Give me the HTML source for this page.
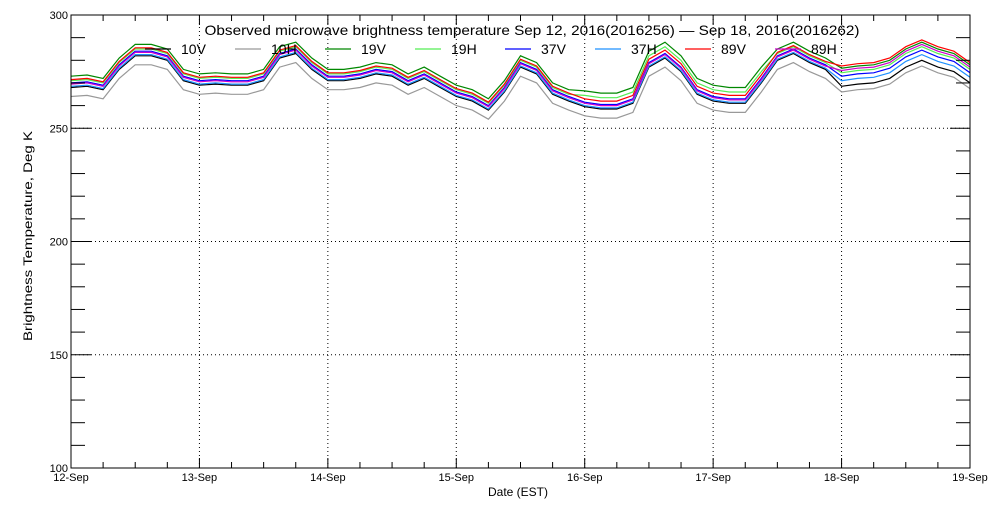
<!DOCTYPE html>
<html><head><meta charset="utf-8">
<style>
html,body{margin:0;padding:0;background:#fff;}
svg text{font-family:"Liberation Sans",sans-serif;fill:#000;}
</style></head>
<body>
<svg id="chart" width="1000" height="500" viewBox="0 0 1000 500" xmlns="http://www.w3.org/2000/svg">
<rect width="1000" height="500" fill="#fff"/>
<g id="grid"></g>
<g id="series"></g>
<g id="axes"></g>
<text x="532" y="35" font-size="14" text-anchor="middle" textLength="655" lengthAdjust="spacingAndGlyphs">Observed microwave brightness temperature Sep 12, 2016(2016256) — Sep 18, 2016(2016262)</text>
<text x="518" y="496" font-size="12" text-anchor="middle">Date (EST)</text>
<text x="32" y="236" font-size="12" text-anchor="middle" textLength="210" lengthAdjust="spacingAndGlyphs" transform="rotate(-90 32 236)">Brightness Temperature, Deg K</text>
<g id="legend"></g>
</svg>
<script>
const dayLabels=["12-Sep","13-Sep","14-Sep","15-Sep","16-Sep","17-Sep","18-Sep","19-Sep"];
const yTicks=[100,150,200,250,300];
const seriesNames=["10V","10H","19V","19H","37V","37H","89V","89H"];
const seriesColors=["#000000","#999999","#008800","#55ee55","#0000ff","#1e90ff","#ff0000","#cc00cc"];
const v10V=[268,268.5,267,276,282,282,280,271,269,269.5,269,269,271,281,283,276,271,271,272,274,273,269,272,268,264,262,258,266,277,274,265,262,259.5,258.5,258.5,261,277,281,275,265,262,261,261,270,280,283,279,276,268.5,269.5,270,272,277,280,277,275,270];
const v10H=[264,264.5,263,272,278,278,276,267,265,265.5,265,265,267,277,279,272,267,267,268,270,269,265,268,264,260,258,254,262,273,270,261,258,255.5,254.5,254.5,257,273,277,271,261,258,257,257,266,276,279,275,272,266,267,267.5,269.5,274.5,277.5,274.5,272.5,267.5];
const v19V=[273,273.5,272,281,287,287,285,276,274,274.5,274,274,276,286,288,281,276,276,277,279,278,274,277,273,269,267,263,271,282,279,270,267,266.5,265.5,265.5,268,284,288,282,272,269,268,268,277,285,288,284,281,276.5,277.5,278,280,285,288,285,283,278];
const v19H=[271,271.5,270,279,285,285,283,274,272,272.5,272,272,274,284,286,279,274,274,275,277,276,272,275,271,267,265,261,269,280,277,268,265,264.5,263.5,263.5,266,282,286,280,270,267,266,266,275,283,286,282,279,274.5,275.5,276,278,283,286,283,281,276];
const v37V=[270,270.5,269,278,284,284,282,273,271,271.5,271,271,273,283,285,278,273,273,274,276,275,271,274,270,266,264,260,268,279,276,267,264,261.5,260.5,260.5,263,279,283,277,267,264,263,263,272,282,285,281,278,273,274,274.5,276.5,281.5,284.5,281.5,279.5,274.5];
const v37H=[268.5,269,267.5,276.5,282.5,282.5,280.5,271.5,269.5,270,269.5,269.5,271.5,281.5,283.5,276.5,271.5,271.5,272.5,274.5,273.5,269.5,272.5,268.5,264.5,262.5,258.5,266.5,277.5,274.5,265.5,262.5,260,259,259,261.5,277.5,281.5,275.5,265.5,262.5,261.5,261.5,270.5,280.5,283.5,279.5,276.5,271,272,272.5,274.5,279.5,282.5,279.5,277.5,272.5];
const v89V=[271.5,272,270.5,279.5,285.5,285.5,283.5,274.5,272.5,273,272.5,272.5,274.5,284.5,286.5,279.5,274.5,274.5,275.5,277.5,276.5,272.5,275.5,271.5,267.5,265.5,261.5,269.5,280.5,277.5,268.5,265.5,263,262,262,264.5,280.5,284.5,278.5,268.5,265.5,264.5,264.5,273.5,283.5,286.5,282.5,279.5,277.5,278.5,279,281,286,289,286,284,279];
const v89H=[269.5,270,268.5,277.5,283.5,283.5,281.5,272.5,270.5,271,270.5,270.5,272.5,282.5,284.5,277.5,272.5,272.5,273.5,275.5,274.5,270.5,273.5,269.5,265.5,263.5,259.5,267.5,278.5,275.5,266.5,263.5,261,260,260,262.5,278.5,282.5,276.5,266.5,263.5,262.5,262.5,271.5,281.5,284.5,280.5,277.5,275.5,276.5,277,279,284,287,284,282,277];

const NS="http://www.w3.org/2000/svg";
const X0=71,X1=970,Y0=468,Y1=15,YMIN=100,YMAX=300,NDAYS=7;
const xs=d=>X0+(X1-X0)*d/NDAYS;
const ys=v=>Y0-(Y0-Y1)*(v-YMIN)/(YMAX-YMIN);
function mk(tag,attrs,parent){const e=document.createElementNS(NS,tag);for(const k in attrs)e.setAttribute(k,attrs[k]);parent.appendChild(e);return e;}
const grid=document.getElementById('grid'),axes=document.getElementById('axes'),ser=document.getElementById('series'),leg=document.getElementById('legend');

for(let d=1;d<NDAYS;d++){const l=mk('line',{x1:xs(d),x2:xs(d),y1:Y1,y2:Y0,stroke:'#000','stroke-width':1,'stroke-dasharray':'1,3'},grid);

}
for(const t of yTicks){if(t===YMIN||t===YMAX)continue;const l=mk('line',{x1:X0,x2:X1,y1:ys(t),y2:ys(t),stroke:'#000','stroke-width':1,'stroke-dasharray':'1,3'},grid);

}

const allSeries=[v10V,v10H,v19V,v19H,v37V,v37H,v89V,v89H];
const order=[1,0,2,3,5,4,7,6];
for(const i of order){const vals=allSeries[i];const n=vals.length;
const pts=vals.map((v,j)=>xs(j*NDAYS/(n-1)).toFixed(1)+','+ys(v).toFixed(1)).join(' ');
const p=mk('polyline',{points:pts,fill:'none',stroke:seriesColors[i],'stroke-width':1.2},ser);

}

const fr=mk('rect',{x:X0,y:Y1,width:X1-X0,height:Y0-Y1,fill:'none',stroke:'#000','stroke-width':1},axes);


for(let v=YMIN;v<=YMAX;v+=10){const major=(v%50===0);const len=major?20:14;
mk('line',{x1:X0,x2:X0+len,y1:ys(v),y2:ys(v),stroke:'#000'},axes);
mk('line',{x1:X1,x2:X1-len,y1:ys(v),y2:ys(v),stroke:'#000'},axes);}
for(const t of yTicks){const tx=mk('text',{x:X0-3,y:ys(t)+4,'font-size':11,'text-anchor':'end'},axes);tx.textContent=t;

}
for(let q=0;q<=NDAYS*4;q++){const x=xs(q/4);const len=(q%4===0)?10:6;
mk('line',{x1:x,x2:x,y1:Y0,y2:Y0-len,stroke:'#000'},axes);
mk('line',{x1:x,x2:x,y1:Y1,y2:Y1+len,stroke:'#000'},axes);}
dayLabels.forEach((lab,d)=>{const tx=mk('text',{x:xs(d),y:481,'font-size':11,'text-anchor':'middle'},axes);tx.textContent=lab;

});

seriesNames.forEach((nm,i)=>{const lx=145+i*90;
const g=mk('g',{},leg);


mk('line',{x1:lx,x2:lx+26,y1:49,y2:49,stroke:seriesColors[i],'stroke-width':1.2},g);
const t=mk('text',{x:lx+36,y:54,'font-size':14},g);t.textContent=nm;});
</script>
</body></html>
